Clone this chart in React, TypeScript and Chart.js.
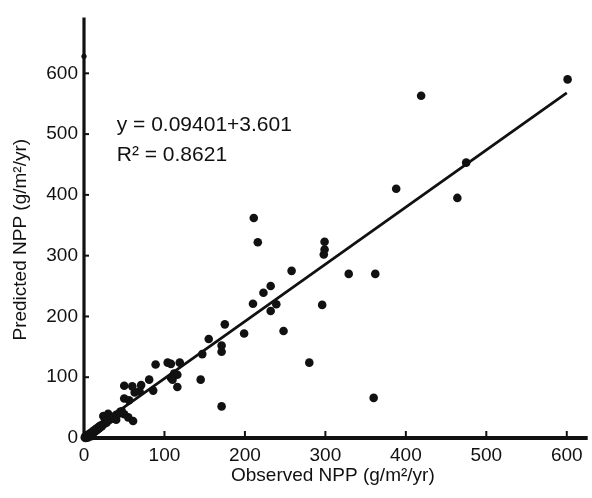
import React, { useEffect, useRef } from "react";
import { Chart, registerables } from "chart.js";

Chart.register(...registerables);

// Observed NPP (x) and predicted NPP (y), g/m²/yr
const observed: number[] = [
  601, 419, 475, 388, 464, 362, 360, 0,
  211, 216, 299, 299, 298, 258, 329, 232, 223, 210, 239, 232, 296, 175, 199, 248, 155, 171, 171, 147, 280, 171, 145,
  89, 104, 108, 119, 112, 116, 108, 110, 81, 116, 86,
  50, 60, 71, 69, 63, 50, 56, 50, 55, 61, 24, 30, 36, 40,
  1, 2, 3, 4, 5, 6, 7, 8, 9, 10, 11, 12, 13, 14, 15, 16, 17, 18, 19, 20, 22, 23, 25, 26, 28, 30, 32, 34, 36, 38, 40, 43, 45, 47,
  2, 5, 9,
];
const predicted: number[] = [
  590, 563, 453, 410, 395, 270, 66, 628,
  362, 322, 323, 310, 302, 275, 270, 250, 239, 221, 220, 209, 219, 187, 172, 176, 163, 152, 142, 138, 124, 52, 96,
  121, 124, 122, 124, 106, 104, 99, 96, 96, 84, 78,
  86, 85, 87, 77, 75, 65, 62, 39, 34, 28, 36, 40, 33, 30,
  1, 3, 1, 5, 2, 6, 4, 8, 6, 10, 8, 12, 10, 14, 12, 16, 14, 18, 16, 20, 19, 22, 23, 26, 25, 29, 30, 32, 35, 34, 38, 40, 43, 44,
  0, 1, 3,
];

// Regression line end points
const fitX: number[] = [0, 600];
const fitY: number[] = [4, 568];

const xTicks: number[] = [0, 100, 200, 300, 400, 500, 600];
const yTicks: number[] = [0, 100, 200, 300, 400, 500, 600];

const xTitle = "Observed NPP (g/m²/yr)";
const yTitle = "Predicted NPP (g/m²/yr)";
const eqLine1 = "y = 0.09401+3.601";
const eqLine2 = "R² = 0.8621";
const eqPosX = 40.7;
const eqPosY1 = 505;
const eqPosY2 = 455;

const FONT = "'Liberation Sans', Arial, Helvetica, sans-serif";
const INK = "#111111";

const drawPlugin = {
  id: "npp-custom",
  beforeDatasetsDraw(chart: any) {
    const { ctx, chartArea, scales } = chart;
    const { left, right, top, bottom } = chartArea;
    const x = scales.x;
    const y = scales.y;
    ctx.save();
    ctx.strokeStyle = INK;
    ctx.lineCap = "butt";
    ctx.lineWidth = 3.2;
    ctx.beginPath();
    ctx.moveTo(left, top);
    ctx.lineTo(left, bottom + 2);
    ctx.stroke();
    ctx.lineWidth = 4;
    ctx.beginPath();
    ctx.moveTo(left - 1.6, bottom);
    ctx.lineTo(right, bottom);
    ctx.stroke();
    ctx.lineWidth = 2;
    xTicks.forEach((v) => {
      if (v === 0) return;
      const px = x.getPixelForValue(v);
      ctx.beginPath();
      ctx.moveTo(px, bottom);
      ctx.lineTo(px, bottom - 7);
      ctx.stroke();
    });
    yTicks.forEach((v) => {
      if (v === 0) return;
      const py = y.getPixelForValue(v);
      ctx.beginPath();
      ctx.moveTo(left, py);
      ctx.lineTo(left + 5, py);
      ctx.stroke();
    });
    ctx.restore();
  },
  afterDraw(chart: any) {
    const { ctx, chartArea, scales } = chart;
    const x = scales.x;
    const y = scales.y;
    ctx.save();
    ctx.fillStyle = INK;
    ctx.font = `19px ${FONT}`;
    ctx.textAlign = "center";
    ctx.textBaseline = "alphabetic";
    ctx.fillText(xTitle, (chartArea.left + chartArea.right) / 2 - 3, 481);
    ctx.save();
    ctx.translate(26, (chartArea.top + chartArea.bottom) / 2 + 12);
    ctx.rotate(-Math.PI / 2);
    ctx.fillText(yTitle, 0, 0);
    ctx.restore();
    ctx.font = `21px ${FONT}`;
    ctx.textAlign = "left";
    ctx.fillText(eqLine1, x.getPixelForValue(eqPosX), y.getPixelForValue(eqPosY1));
    ctx.fillText(eqLine2, x.getPixelForValue(eqPosX), y.getPixelForValue(eqPosY2));
    ctx.restore();
  },
};

export default function App() {
  const canvasRef = useRef<HTMLCanvasElement | null>(null);

  useEffect(() => {
    document.body.style.margin = "0";
    const canvas = canvasRef.current;
    if (!canvas) return;
    const points = observed.map((v, i) => ({ x: v, y: predicted[i] }));
    const fit = fitX.map((v, i) => ({ x: v, y: fitY[i] }));
    const chart = new Chart(canvas, {
      type: "scatter",
      data: {
        datasets: [
          {
            label: "fit",
            data: fit,
            showLine: true,
            borderColor: INK,
            borderWidth: 2.8,
            pointRadius: 0,
            clip: false as any,
          } as any,
          {
            label: "NPP",
            data: points,
            backgroundColor: INK,
            borderColor: INK,
            borderWidth: 0,
            pointRadius: (c: any) => (c.raw && c.raw.x === 0 ? 2.6 : 4.3),
            clip: false as any,
          } as any,
        ],
      },
      options: {
        responsive: false,
        animation: false,
        devicePixelRatio: 1,
        layout: { padding: { top: 5, right: 0, left: 0, bottom: 0 } },
        plugins: {
          legend: { display: false },
          tooltip: { enabled: false },
          title: { display: false },
        },
        scales: {
          x: {
            type: "linear",
            min: 0,
            max: 626,
            border: { display: false },
            grid: { display: false, drawTicks: false },
            afterFit: (s: any) => {
              s.height = 60;
            },
            afterBuildTicks: (s: any) => {
              s.ticks = xTicks.map((v) => ({ value: v }));
            },
            ticks: {
              color: INK,
              padding: 6,
              maxRotation: 0,
              autoSkip: false,
              font: { family: FONT, size: 19 },
            },
          },
          y: {
            type: "linear",
            min: 0,
            max: 692,
            border: { display: false },
            grid: { display: false, drawTicks: false },
            afterFit: (s: any) => {
              s.width = 84;
            },
            afterBuildTicks: (s: any) => {
              s.ticks = yTicks.map((v) => ({ value: v }));
            },
            ticks: {
              color: INK,
              padding: 6,
              autoSkip: false,
              font: { family: FONT, size: 19 },
            },
          },
        },
      },
      plugins: [drawPlugin],
    });
    return () => {
      chart.destroy();
    };
  }, []);

  return (
    <div style={{ width: 592, height: 498, background: "#fff" }}>
      <canvas ref={canvasRef} width={592} height={498} style={{ display: "block" }} />
    </div>
  );
}
